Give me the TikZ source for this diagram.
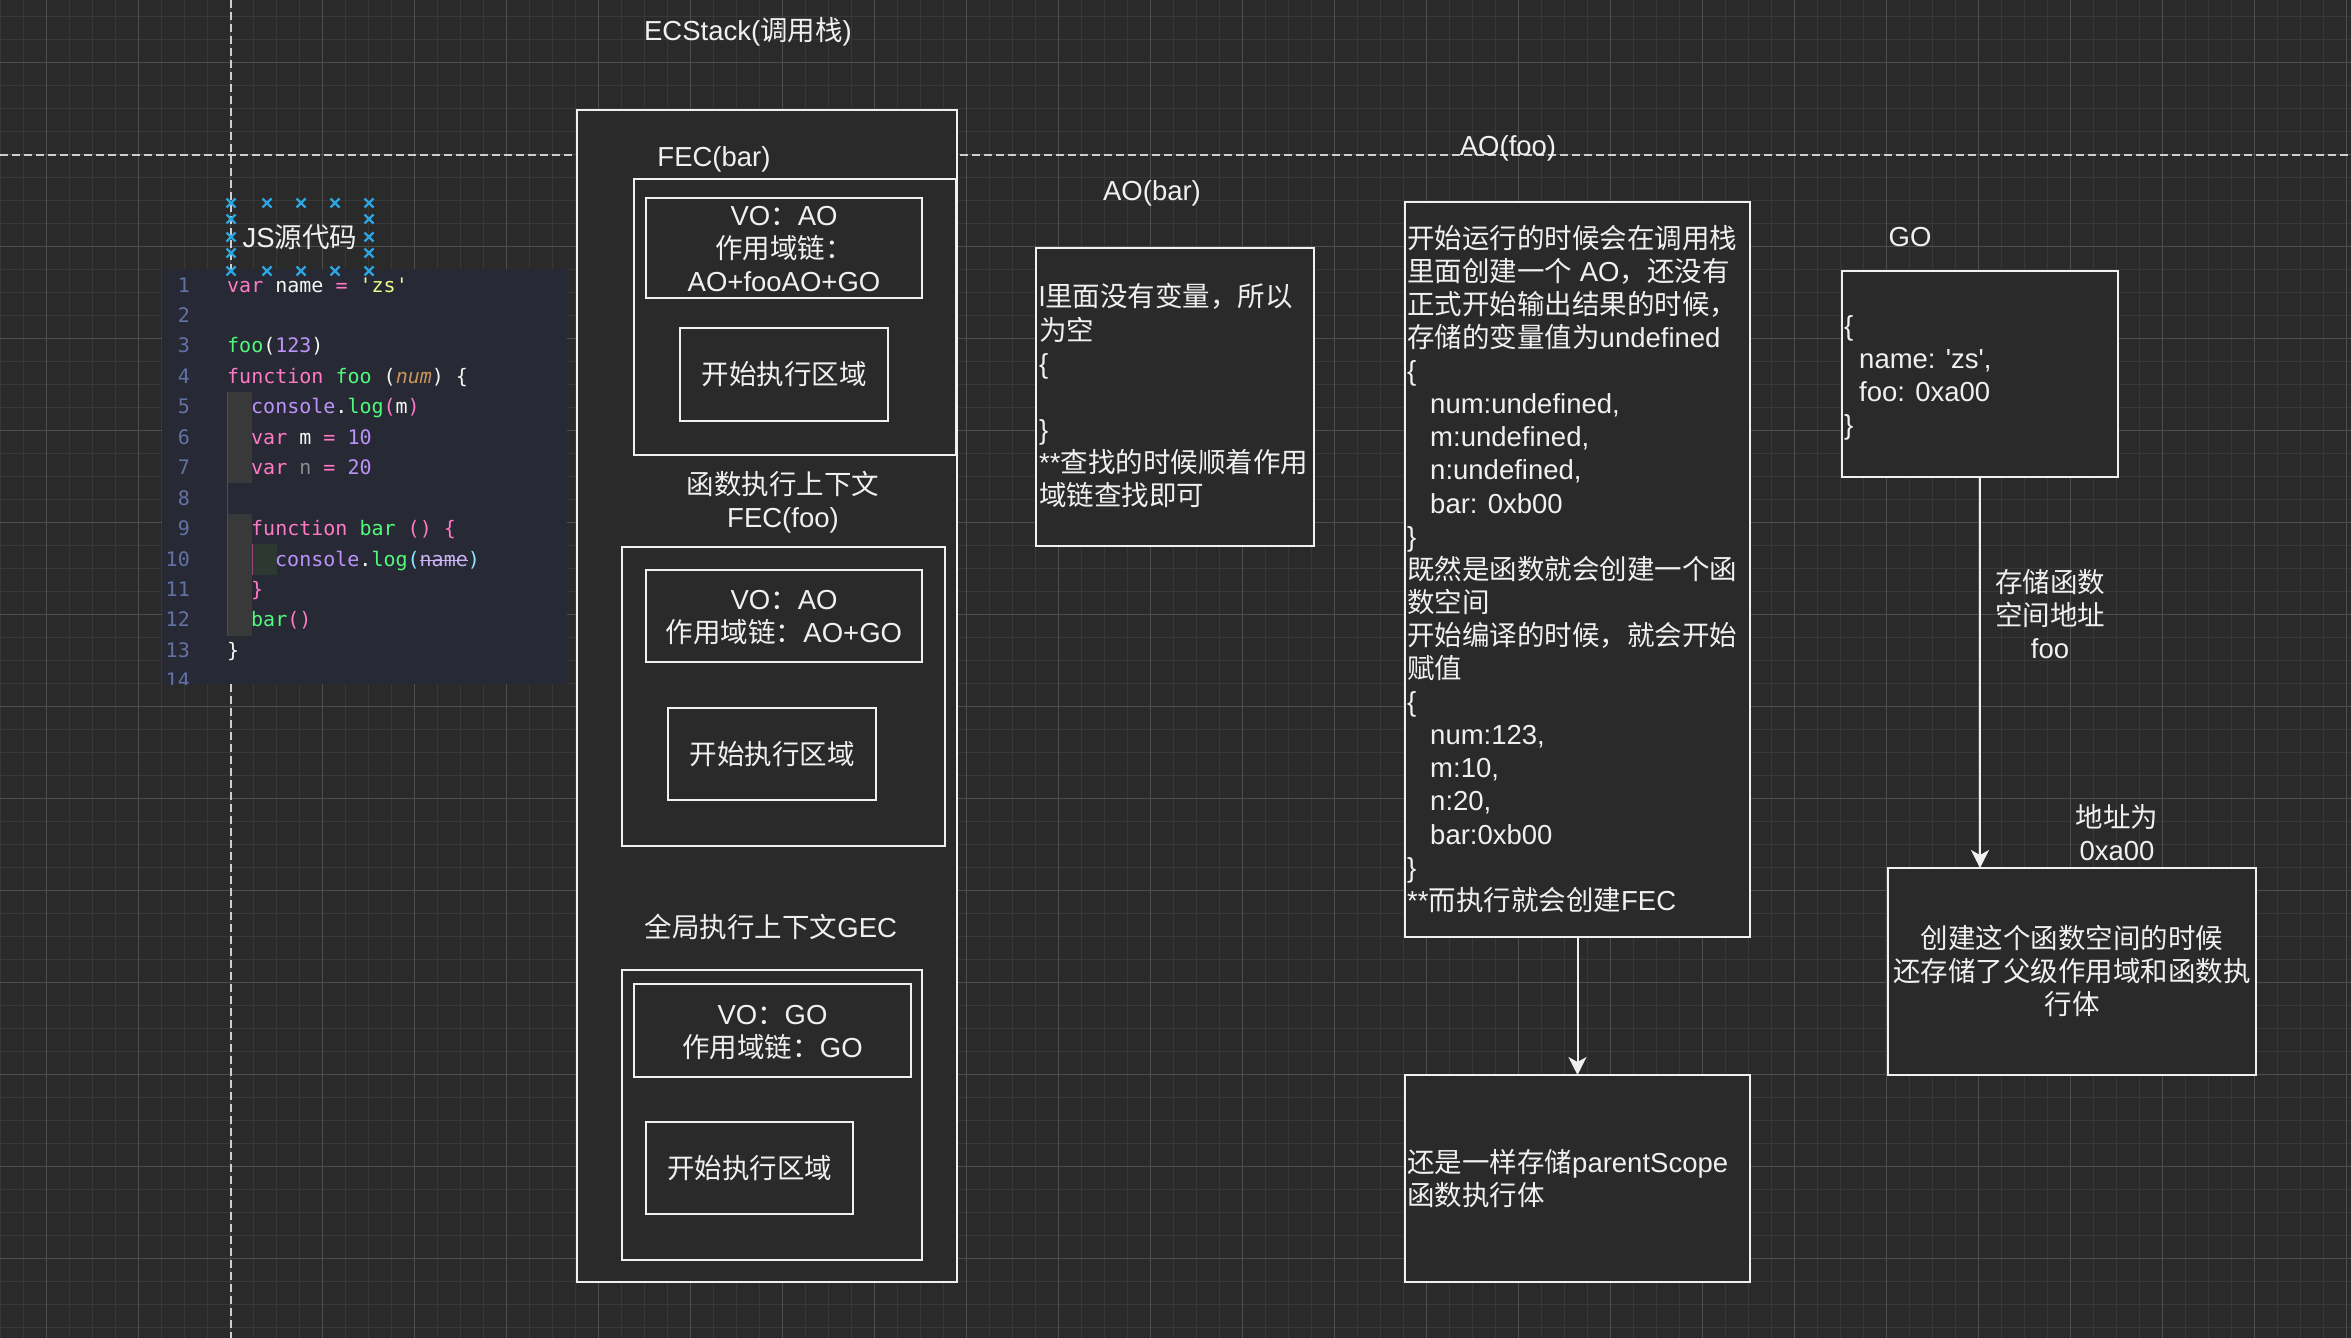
\documentclass[tikz,border=0pt]{standalone}
\usepackage{fontspec}
\newfontfamily\latfont{Liberation Sans}
\newfontfamily\cjkfont{Noto Sans CJK SC}
\newfontfamily\codefont{DejaVu Sans Mono}
\usetikzlibrary{arrows.meta}

\XeTeXinterchartokenstate=1
\chardef\CJKcls=77
\newcount\cjkc
\cjkc="3000 \loop \XeTeXcharclass\cjkc=\CJKcls \advance\cjkc by 1 \ifnum\cjkc<"3040 \repeat
\cjkc="4E00 \loop \XeTeXcharclass\cjkc=\CJKcls \advance\cjkc by 1 \ifnum\cjkc<"A000 \repeat
\cjkc="FF00 \loop \XeTeXcharclass\cjkc=\CJKcls \advance\cjkc by 1 \ifnum\cjkc<"FFF0 \repeat
\XeTeXinterchartoks 0 \CJKcls = {\begingroup\cjkfont}
\XeTeXinterchartoks 4095 \CJKcls = {\begingroup\cjkfont}
\XeTeXinterchartoks \CJKcls 0 = {\endgroup}
\XeTeXinterchartoks \CJKcls 4095 = {\endgroup}

\definecolor{bgc}{HTML}{2A2A2A}
\definecolor{gminc}{HTML}{383838}
\definecolor{gmajc}{HTML}{4E4E4E}
\definecolor{fgc}{HTML}{F0F0F0}
\definecolor{dashc}{HTML}{CFCFCF}
\definecolor{mkc}{HTML}{2BA6E3}
\definecolor{codebg}{HTML}{272935}
\definecolor{clnum}{HTML}{6272A4}
\definecolor{ckw}{HTML}{FF79C6}
\definecolor{cfn}{HTML}{50FA7B}
\definecolor{cstr}{HTML}{F1FA8C}
\definecolor{cnum}{HTML}{BD93F9}
\definecolor{cfg}{HTML}{F8F8F2}
\definecolor{cpar}{HTML}{C8965A}
\definecolor{ccon}{HTML}{BD93F9}
\definecolor{cb2}{HTML}{FF79C6}
\definecolor{cb3}{HTML}{8BE9FD}
\definecolor{cdim}{HTML}{8C8C8C}
\definecolor{cnm}{HTML}{C9B2F2}
\definecolor{guide}{HTML}{393939}
\definecolor{guide2}{HTML}{2D3832}

\newcommand\mainsz{\latfont\fontsize{27.5}{33.1}\selectfont}
\newcommand\codesz{\codefont\fontsize{20}{24}\selectfont}
\newcommand\T[1]{\rule{0pt}{26.75pt}#1\rule[-6.35pt]{0pt}{6.35pt}}
\newcommand\ck[2]{\textcolor{#1}{#2}}

\begin{document}
\begin{tikzpicture}[x=1pt,y=-1pt,
  gmin/.style={draw=gminc,line width=1.3pt},
  gmaj/.style={draw=gmajc,line width=1.3pt},
  guideline/.style={draw=dashc,line width=1.6pt,dash pattern=on 8pt off 4pt},
  box/.style={draw=fgc,line width=2pt,fill=bgc,inner sep=0pt,outer sep=0pt,text=fgc,font=\mainsz,align=center},
  lbl/.style={text=fgc,font=\mainsz,inner sep=0pt,align=center},
  ltxt/.style={text=fgc,font=\mainsz,inner sep=0pt,align=left,anchor=west},
  code/.style={font=\codesz,inner sep=0pt,anchor=base west,text=cfg},
  lnum/.style={font=\codesz,inner sep=0pt,anchor=base east,text=clnum},
  arr/.style={draw=fgc,line width=2pt,-{Stealth[length=18pt,width=18pt,inset=5pt]}},
  mk/.style={draw=mkc,line width=2.4pt}]

\useasboundingbox (0,0) rectangle (2351,1338);
\fill[bgc] (0,0) rectangle (2351,1338);

% grid
\foreach \i in {0,...,102} \draw[gmin] ({0.7+23*\i},0) -- ({0.7+23*\i},1338);
\foreach \i in {0,...,57} \draw[gmin] (0,{16.3+23*\i}) -- (2351,{16.3+23*\i});
\foreach \i in {0,...,25} \draw[gmaj] ({46.7+92*\i},0) -- ({46.7+92*\i},1338);
\foreach \i in {0,...,13} \draw[gmaj] (0,{62.3+92*\i}) -- (2351,{62.3+92*\i});

% guide lines
\draw[guideline] (0,155) -- (2351,155);
\draw[guideline] (231,0) -- (231,1338);

% code image
\begin{scope}
\clip (162,269) rectangle (567,684);
\fill[codebg] (162,269) rectangle (567,684);
\fill[guide] (227,392) rectangle (252,483.3);
\fill[guide] (227,513.8) rectangle (252,635.6);
\fill[guide2] (252,544.3) rectangle (277,574.7);
\draw[draw=gmajc,line width=1pt] (227.5,392) -- (227.5,635.6);
\draw[draw=ckw!60!black,line width=1pt] (252.5,544.3) -- (252.5,574.7);
\foreach \n in {1,...,14} \node[lnum] (ln\n) at (190,{292+30.45*(\n-1)}) {\n};
\node[code] (c1) at (227,292) {\ck{ckw}{var} name \ck{ckw}{=} \ck{cstr}{\textquotesingle zs\textquotesingle}};
\node[code] (c3) at (227,{292+30.45*2}) {\ck{cfn}{foo}(\ck{cnum}{123})};
\node[code] (c4) at (227,{292+30.45*3}) {\ck{ckw}{function} \ck{cfn}{foo} (\ck{cpar}{\itshape num}) \{};
\node[code] (c5) at (251,{292+30.45*4}) {\ck{ccon}{console}.\ck{cfn}{log}\ck{cb2}{(}m\ck{cb2}{)}};
\node[code] (c6) at (251,{292+30.45*5}) {\ck{ckw}{var} m \ck{ckw}{=} \ck{cnum}{10}};
\node[code] (c7) at (251,{292+30.45*6}) {\ck{ckw}{var} \ck{cdim}{n} \ck{ckw}{=} \ck{cnum}{20}};
\node[code] (c9) at (251,{292+30.45*8}) {\ck{ckw}{function} \ck{cfn}{bar} \ck{cb2}{() \{}};
\node[code] (c10) at (275,{292+30.45*9}) {\ck{ccon}{console}.\ck{cfn}{log}\ck{cb3}{(}\ck{cnm}{\rlap{\rule[5pt]{48.2pt}{1.5pt}}name}\ck{cb3}{)}};
\node[code] (c11) at (251,{292+30.45*10}) {\ck{cb2}{\}}};
\node[code] (c12) at (251,{292+30.45*11}) {\ck{cfn}{bar}\ck{cb2}{()}};
\node[code] (c13) at (227,{292+30.45*12}) {\}};
\end{scope}

% JS label with selection markers
\node[lbl] (jslbl) at (300,237) {\T{JS源代码}};
\foreach \mx/\my in {231/203,267/203,301/203,335/203,369/203,231/271,267/271,301/271,335/271,369/271,231/219,231/237,231/253,369/219,369/237,369/253}
  \draw[mk] (\mx-4.5,\my-4.5) -- (\mx+4.5,\my+4.5) (\mx-4.5,\my+4.5) -- (\mx+4.5,\my-4.5);

% ECStack
\node[lbl] (ectitle) at (748,30) {\T{ECStack(调用栈)}};
\node[box,minimum width=380,minimum height=1172] (stack) at (767,696) {};
\node[lbl] (fecbarlbl) at (714,156) {\T{FEC(bar)}};
\node[box,minimum width=322,minimum height=276] (fecbar) at (795,317) {};
\node[box,minimum width=276,minimum height=92] (vobar) at (784,248) {\T{VO：AO\\作用域链：\\AO+fooAO+GO}};
\node[box,minimum width=208,minimum height=93] (exbar) at (784,374.5) {\T{开始执行区域}};

\node[lbl] (fecfoolbl) at (783,500.5) {\T{函数执行上下文\\FEC(foo)}};
\node[box,minimum width=323,minimum height=299] (fecfoo) at (783.5,696.5) {};
\node[box,minimum width=276,minimum height=92] (vofoo) at (784,616) {\T{VO：AO\\作用域链：AO+GO}};
\node[box,minimum width=208,minimum height=92] (exfoo) at (772,754) {\T{开始执行区域}};

\node[lbl] (geclbl) at (771,927) {\T{全局执行上下文GEC}};
\node[box,minimum width=300,minimum height=290] (gec) at (772,1115) {};
\node[box,minimum width=277,minimum height=93] (vogec) at (772.5,1030.5) {\T{VO：GO\\作用域链：GO}};
\node[box,minimum width=207,minimum height=92] (exgec) at (749.5,1168) {\T{开始执行区域}};

% AO(bar)
\node[lbl] (aobarlbl) at (1152,190) {\T{AO(bar)}};
\node[box,minimum width=278,minimum height=298] (aobar) at (1175,397) {};
\node[ltxt] (aobartxt) at (1039,396) {\T{l里面没有变量，所以\\为空\\\{\\ \\\}\\**查找的时候顺着作用\\域链查找即可}};

% AO(foo)
\node[lbl] (aofoolbl) at (1508,145) {\T{AO(foo)}};
\node[box,minimum width=345,minimum height=735] (aofoo) at (1577.5,569.5) {};
\node[ltxt] (aofootxt) at (1407,569) {\T{开始运行的时候会在调用栈\\里面创建一个 AO，还没有\\正式开始输出结果的时候，\\存储的变量值为undefined\\\{\\\hspace*{23pt}num:undefined,\\\hspace*{23pt}m:undefined,\\\hspace*{23pt}n:undefined,\\\hspace*{23pt}bar: 0xb00\\\}\\既然是函数就会创建一个函\\数空间\\开始编译的时候，就会开始\\赋值\\\{\\\hspace*{23pt}num:123,\\\hspace*{23pt}m:10,\\\hspace*{23pt}n:20,\\\hspace*{23pt}bar:0xb00\\\}\\**而执行就会创建FEC}};

\node[box,minimum width=345,minimum height=207] (fooscope) at (1577.5,1178.5) {};
\node[ltxt] (fooscopetxt) at (1407,1178.5) {\T{还是一样存储parentScope\\函数执行体}};

% GO
\node[lbl] (golbl) at (1910,236) {\T{GO}};
\node[box,minimum width=276,minimum height=206] (gobox) at (1980,374) {};
\node[ltxt] (gotxt) at (1844,375) {\T{\{\\\hspace*{15pt}name: \textquotesingle zs\textquotesingle,\\\hspace*{15pt}foo: 0xa00\\\}}};

\node[box,minimum width=368,minimum height=207] (fnspace) at (2072,971.5) {\T{创建这个函数空间的时候\\还存储了父级作用域和函数执\\行体}};

% connectors
\draw[arr] (aofoo.south) -- (fooscope.north);
\draw[arr] (gobox.south) -- (gobox.south |- fnspace.north);
\node[lbl] (storelbl) at (2050,615) {\T{存储函数\\空间地址\\foo}};
\node[lbl] (addrlbl) at (2117,833.5) {\T{地址为\\0xa00}};

\end{tikzpicture}
\end{document}
